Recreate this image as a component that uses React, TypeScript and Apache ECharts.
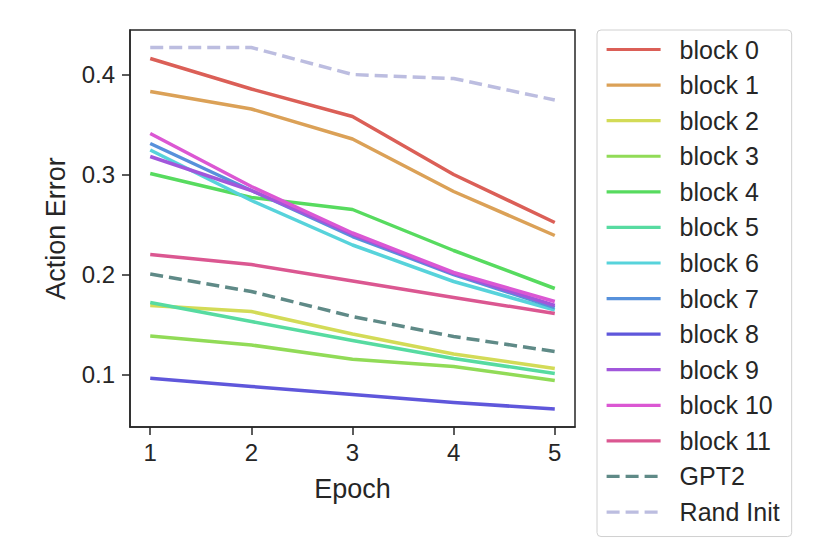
import React, { useEffect, useRef } from "react";
import * as echarts from "echarts";

const epochs = [1, 2, 3, 4, 5];
const seriesNames = [
  "block 0", "block 1", "block 2", "block 3", "block 4", "block 5",
  "block 6", "block 7", "block 8", "block 9", "block 10", "block 11",
  "GPT2", "Rand Init",
];
const block0 = [0.416, 0.3855, 0.358, 0.3, 0.252];
const block1 = [0.383, 0.3655, 0.3355, 0.283, 0.239];
const block2 = [0.169, 0.163, 0.1405, 0.1205, 0.106];
const block3 = [0.1385, 0.1295, 0.1152, 0.108, 0.094];
const block4 = [0.301, 0.277, 0.265, 0.224, 0.186];
const block5 = [0.172, 0.153, 0.134, 0.116, 0.101];
const block6 = [0.3245, 0.274, 0.2295, 0.193, 0.1645];
const block7 = [0.331, 0.284, 0.238, 0.2, 0.167];
const block8 = [0.0962, 0.088, 0.08, 0.072, 0.0655];
const block9 = [0.318, 0.284, 0.24, 0.201, 0.169];
const block10 = [0.341, 0.288, 0.2415, 0.202, 0.173];
const block11 = [0.22, 0.21, 0.1935, 0.177, 0.161];
const gpt2 = [0.2005, 0.183, 0.158, 0.138, 0.123];
const randInit = [0.427, 0.427, 0.4, 0.396, 0.3745];
const allValues = [
  block0, block1, block2, block3, block4, block5,
  block6, block7, block8, block9, block10, block11, gpt2, randInit,
];
const colors = [
  "#db5f57", "#dba157", "#d3db57", "#91db57", "#57db5f", "#57dba1",
  "#57d3db", "#5791db", "#5f57db", "#a157db", "#db57d3", "#db5791",
  "#5f8a87", "#bcbde0",
];
const yTicks = [0.1, 0.2, 0.3, 0.4];
const xTicks = [1, 2, 3, 4, 5];

const FONT = "Liberation Sans, Arial, Helvetica, sans-serif";
const TXT = "#262626";

export default function App() {
  const ref = useRef<HTMLDivElement>(null);
  useEffect(() => {
    if (!ref.current) return;
    const chart = echarts.init(ref.current, undefined, { renderer: "svg" });
    const series = seriesNames.map((name, i) => ({
      name,
      type: "line",
      data: epochs.map((e, j) => [e, allValues[i][j]]),
      symbol: "none",
      color: colors[i],
      lineStyle: {
        width: 3.5,
        color: colors[i],
        type: i >= 12 ? [13, 6] : "solid",
        cap: "butt",
        join: "round",
      },
      z: 2 + i,
    }));
    chart.setOption({
      animation: false,
      backgroundColor: "#ffffff",
      textStyle: { fontFamily: FONT, color: TXT },
      grid: {
        left: 130,
        top: 30,
        right: 255,
        bottom: 127,
        show: true,
        borderColor: TXT,
        borderWidth: 1.5,
        containLabel: false,
      },
      xAxis: {
        type: "value",
        min: 0.8,
        max: 5.2,
        name: "Epoch",
        nameLocation: "middle",
        nameGap: 48,
        nameTextStyle: { fontSize: 27, color: TXT, fontFamily: FONT },
        splitLine: { show: false },
        axisLine: { show: true, lineStyle: { color: TXT, width: 1.5 } },
        axisTick: {
          show: true,
          length: 8,
          lineStyle: { color: TXT, width: 1.5 },
          customValues: xTicks,
        },
        axisLabel: {
          fontSize: 24,
          color: TXT,
          fontFamily: FONT,
          margin: 13,
          customValues: xTicks,
          formatter: (v: number) => String(Math.round(v)),
        },
      },
      yAxis: {
        type: "value",
        min: 0.0475,
        max: 0.4445,
        name: "Action Error",
        nameLocation: "middle",
        nameGap: 61,
        nameTextStyle: { fontSize: 27, color: TXT, fontFamily: FONT },
        splitLine: { show: false },
        axisLine: { show: true, lineStyle: { color: TXT, width: 1.5 } },
        axisTick: {
          show: true,
          length: 8,
          lineStyle: { color: TXT, width: 1.5 },
          customValues: yTicks,
        },
        axisLabel: {
          fontSize: 24,
          color: TXT,
          fontFamily: FONT,
          margin: 15,
          customValues: yTicks,
          formatter: (v: number) => v.toFixed(1),
        },
      },
      legend: {
        orient: "vertical",
        left: 597,
        top: 30,
        data: seriesNames,
        itemWidth: 54,
        itemHeight: 24,
        itemGap: 10.58,
        padding: [7, 12, 12, 8],
        borderColor: "#d0d0d0",
        borderWidth: 1,
        borderRadius: 4,
        backgroundColor: "#ffffff",
        itemStyle: { opacity: 0 },
        lineStyle: { width: 3.2 },
        textStyle: {
          fontSize: 25,
          color: TXT,
          fontFamily: FONT,
          padding: [0, 0, 0, 14],
        },
      },
      series,
    });
    return () => chart.dispose();
  }, []);
  return (
    <div
      ref={ref}
      style={{ position: "fixed", left: 0, top: 0, width: 830, height: 554 }}
    />
  );
}
